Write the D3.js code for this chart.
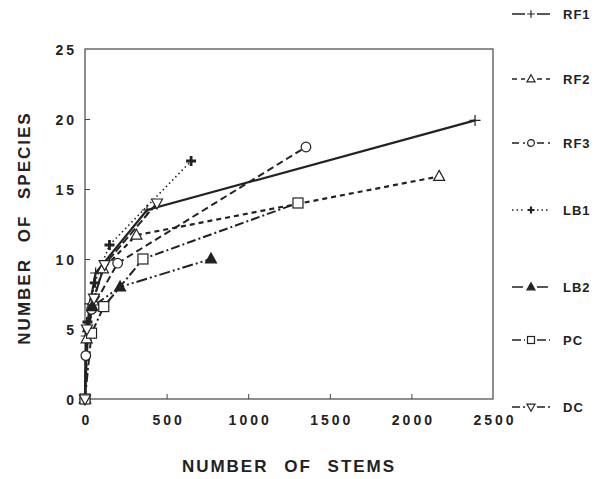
<!DOCTYPE html>
<html>
<head>
<meta charset="utf-8">
<script src="https://cdn.jsdelivr.net/npm/d3@7"></script>
<style>
  html, body { margin: 0; padding: 0; background: #fff; }
  svg { display: block; }
  text { font-family: "Liberation Sans", Arial, sans-serif; font-weight: bold; fill: #222; }
</style>
</head>
<body>
<svg id="chart" width="608" height="479"></svg>
<script>
// Species accumulation: cumulative species against cumulative stems
const seriesNames = ["RF1", "RF2", "RF3", "LB1", "LB2", "PC", "DC"];
const stemsRF1 = [0, 8, 30, 65, 380, 2390];
const speciesRF1 = [0, 4.5, 6.8, 9, 13.5, 19.9];
const stemsRF2 = [0, 10, 50, 110, 315, 2170];
const speciesRF2 = [0, 4.3, 7, 9.3, 11.7, 15.9];
const stemsRF3 = [0, 5, 40, 200, 1354];
const speciesRF3 = [0, 3.1, 6.4, 9.7, 18];
const stemsLB1 = [0, 15, 60, 150, 650];
const speciesLB1 = [0, 5.5, 8.3, 11, 17];
const stemsLB2 = [0, 20, 45, 215, 772];
const speciesLB2 = [0, 5.1, 6.6, 8, 10];
const stemsPC = [0, 40, 115, 355, 1305];
const speciesPC = [0, 4.7, 6.6, 10, 14];
const stemsDC = [0, 12, 55, 120, 441];
const speciesDC = [0, 5, 7.2, 9.6, 14];

const xTicks = [0, 500, 1000, 1500, 2000, 2500];
const yTicks = [0, 5, 10, 15, 20, 25];

const stems = [stemsRF1, stemsRF2, stemsRF3, stemsLB1, stemsLB2, stemsPC, stemsDC];
const species = [speciesRF1, speciesRF2, speciesRF3, speciesLB1, speciesLB2, speciesPC, speciesDC];

// line and marker styling per series
const styles = {
  RF1: { dash: null, width: 2.2, marker: "plus" },
  RF2: { dash: "5,4", width: 2.2, marker: "triUp" },
  RF3: { dash: "7,4", width: 2, marker: "circle" },
  LB1: { dash: "1.5,3", width: 1.6, marker: "plusBold" },
  LB2: { dash: "11,3,2,3,2,3", width: 2, marker: "triFill" },
  PC:  { dash: "9,3,2,3", width: 2, marker: "square" },
  DC:  { dash: "8,3", width: 2, marker: "triDown" }
};

const svg = d3.select("#chart");
const x = d3.scaleLinear().domain([0, 2500]).range([85, 493]);
const y = d3.scaleLinear().domain([0, 25]).range([399, 49]);
const ink = "#222";

// frame
svg.append("rect")
  .attr("x", x(0)).attr("y", y(25))
  .attr("width", x(2500) - x(0)).attr("height", y(0) - y(25))
  .attr("fill", "none").attr("stroke", "#444").attr("stroke-width", 1.2);

// axes with inward ticks
const xAxis = svg.append("g").attr("transform", `translate(0,${y(0)})`)
  .call(d3.axisBottom(x).tickValues(xTicks).tickSize(-5).tickPadding(16).tickFormat(d3.format("d")));
const yAxis = svg.append("g").attr("transform", `translate(${x(0)},0)`)
  .call(d3.axisLeft(y).tickValues(yTicks).tickSize(-5).tickPadding(8).tickFormat(d3.format("d")));
[xAxis, yAxis].forEach(g => {
  g.select(".domain").remove();
  g.selectAll(".tick line").attr("stroke", "#444").attr("stroke-width", 1);
  g.selectAll(".tick text")
    .attr("fill", ink)
    .style("font-family", '"Liberation Sans", Arial, sans-serif')
    .style("font-weight", "bold")
    .style("font-size", "14px")
    .style("letter-spacing", "3px");
});
xAxis.selectAll(".tick text").attr("dx", "1.5px");
yAxis.selectAll(".tick text").attr("dy", "0.36em");
xAxis.selectAll(".tick").filter(d => d === 0 || d === 2500).select("line").remove();
yAxis.selectAll(".tick").filter(d => d === 0 || d === 25).select("line").remove();

// axis titles
svg.append("text")
  .attr("x", 289)
  .attr("text-anchor", "middle")
  .style("font-size", "17px").style("letter-spacing", "2px").style("word-spacing", "9px")
  .attr("y", 477).attr("dy", "-0.3em")
  .text("NUMBER OF STEMS");
svg.append("text")
  .attr("transform", "translate(30,228) rotate(-90)")
  .attr("text-anchor", "middle")
  .style("font-size", "17px").style("letter-spacing", "2px").style("word-spacing", "9px")
  .text("NUMBER OF SPECIES");

// marker drawing; k scales the symbol size
function drawMarker(g, type, cx, cy, k = 1) {
  const s = 5 * k;
  if (type === "plus" || type === "plusBold") {
    const w = type === "plusBold" ? 2.8 * Math.max(k, 0.8) : 1.2;
    const r = (type === "plusBold" ? 5 : 5.5) * k;
    g.append("path").attr("d", `M${cx - r},${cy}H${cx + r}M${cx},${cy - r}V${cy + r}`)
      .attr("stroke", ink).attr("stroke-width", w).attr("fill", "none");
  } else if (type === "circle") {
    g.append("circle").attr("cx", cx).attr("cy", cy).attr("r", 4.8 * k)
      .attr("fill", "#fff").attr("stroke", ink).attr("stroke-width", 1.2);
  } else if (type === "square") {
    g.append("rect").attr("x", cx - s).attr("y", cy - s).attr("width", 2 * s).attr("height", 2 * s)
      .attr("fill", "#fff").attr("stroke", ink).attr("stroke-width", 1.2);
  } else if (type === "triUp" || type === "triFill") {
    g.append("path").attr("d", `M${cx},${cy - 6 * k}L${cx + s + 0.5},${cy + 4 * k}L${cx - s - 0.5},${cy + 4 * k}Z`)
      .attr("fill", type === "triFill" ? ink : "#fff").attr("stroke", ink).attr("stroke-width", 1.2);
  } else if (type === "triDown") {
    g.append("path").attr("d", `M${cx},${cy + 6 * k}L${cx + s + 0.5},${cy - 4 * k}L${cx - s - 0.5},${cy - 4 * k}Z`)
      .attr("fill", "#fff").attr("stroke", ink).attr("stroke-width", 1.2);
  }
}

const line = d3.line().x(d => x(d[0])).y(d => y(d[1]));

// lines first, then markers on top
seriesNames.forEach((name, i) => {
  const pts = stems[i].map((v, j) => [v, species[i][j]]);
  const st = styles[name];
  svg.append("path").datum(pts)
    .attr("d", line)
    .attr("fill", "none").attr("stroke", ink)
    .attr("stroke-width", st.width)
    .attr("stroke-dasharray", st.dash);
});
seriesNames.forEach((name, i) => {
  const g = svg.append("g");
  stems[i].forEach((v, j) => drawMarker(g, styles[name].marker, x(v), y(species[i][j])));
});

// legend down the right edge
const legendY = [14, 79, 143, 210, 287, 340, 407];
seriesNames.forEach((name, i) => {
  const st = styles[name];
  const g = svg.append("g").attr("transform", `translate(0,${legendY[i]})`);
  g.append("path").attr("d", "M512,0H525M537,0H550")
    .attr("fill", "none").attr("stroke", ink)
    .attr("stroke-width", 1.7).attr("stroke-dasharray", st.dash);
  drawMarker(g, st.marker, 531, 0, 0.7);
  g.append("text").attr("x", 563).attr("y", 0).attr("dy", "0.36em")
    .style("font-size", "13px").style("letter-spacing", "1px")
    .text(name);
});
</script>
</body>
</html>
